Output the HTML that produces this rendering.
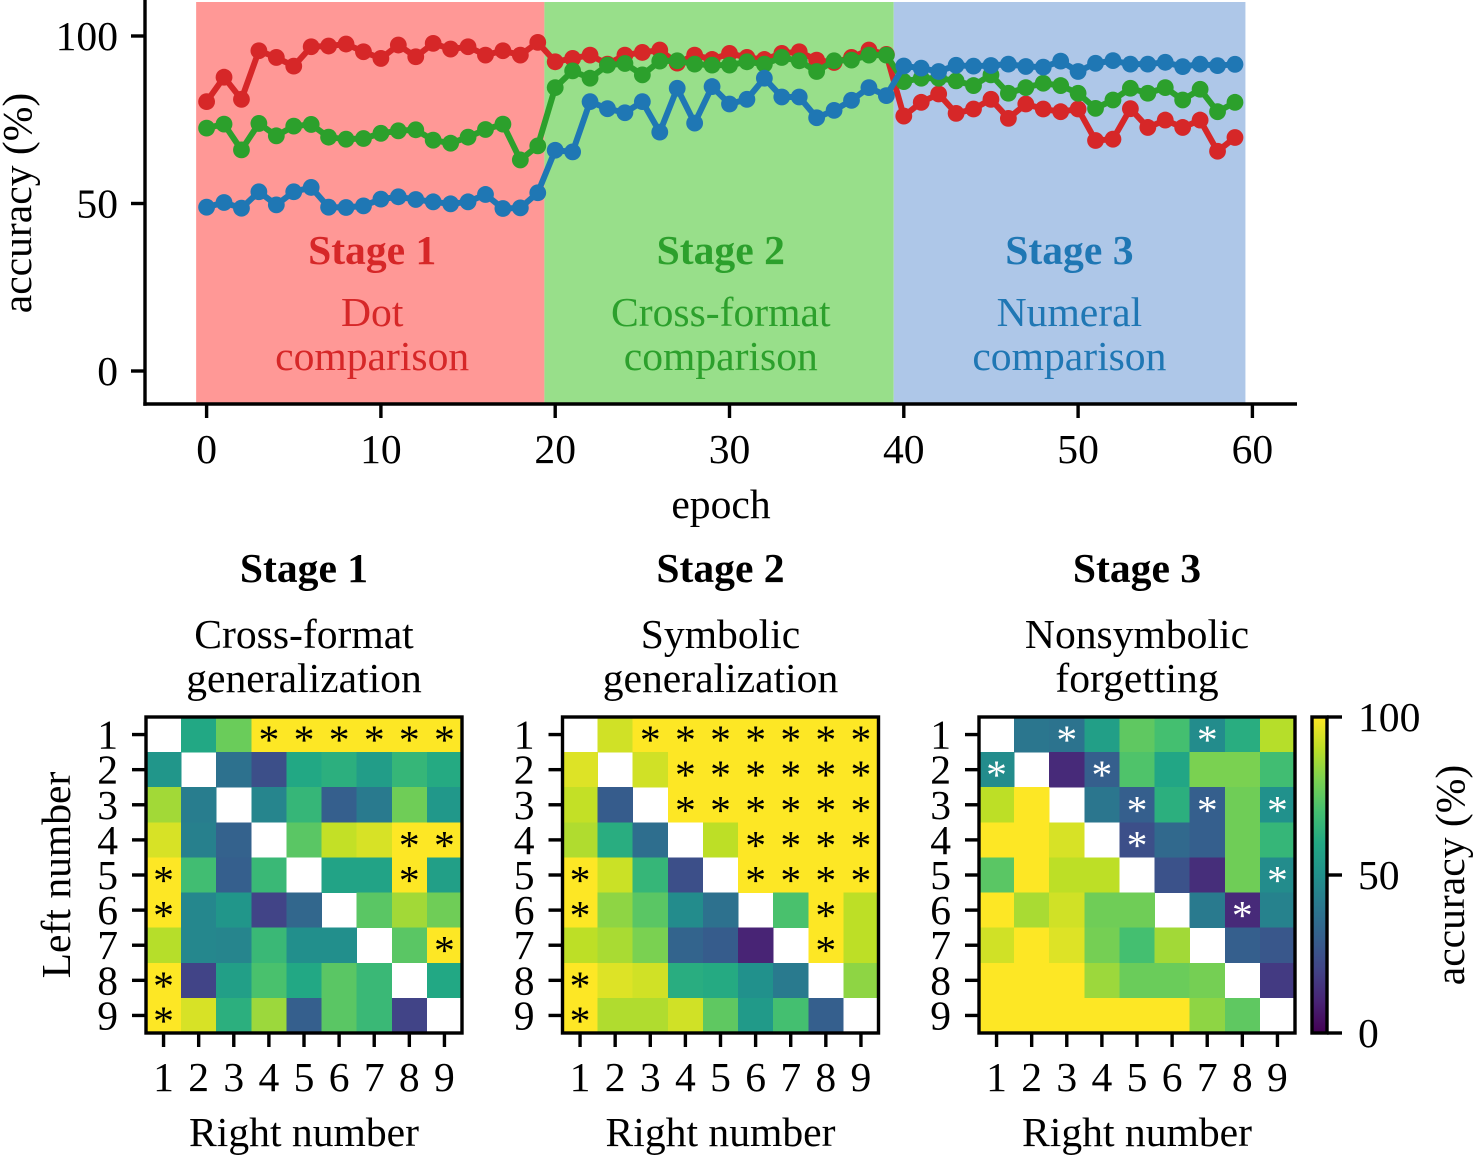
<!DOCTYPE html>
<html lang="en">
<head>
<meta charset="utf-8">
<title>Accuracy across stages</title>
<style>
html,body{margin:0;padding:0;background:#fff;}
svg{display:block;}
text{font-family:"Liberation Serif","Times New Roman",serif;font-size:41.6px;fill:#000;}
</style>
</head>
<body>
<svg id="fig" xmlns="http://www.w3.org/2000/svg" width="1473" height="1155" viewBox="0 0 1473 1155">
<defs><linearGradient id="cbar-grad" x1="0" y1="1" x2="0" y2="0"></linearGradient></defs>
</svg>
<script>
// ---- line chart data ----
const redAcc = [80.4,87.7,81.1,95.6,93.6,91,96.8,97,97.6,95.3,93.3,97.3,93.8,97.8,96.1,96.8,94.3,95.6,94.3,98.1,
  92.3,93.3,94.3,91.6,94.3,95.1,95.8,91.9,94.3,93,94.8,93.6,93,94.8,95.3,92.8,92.1,93.6,95.8,94.5,
  76.1,80.2,82.7,76.9,78.2,81.1,75.4,79.7,78.2,77.4,78.2,68.8,69.2,78.3,72.7,74.9,72.7,74.9,65.6,69.7];
const greenAcc = [72.5,73.7,66,73.9,70.2,73.1,73.6,69.8,69.2,69.4,70.95,71.7,72,68.9,68,69.8,72.1,73.7,63,67.2,
  84.6,89.6,87.4,91.3,91.8,88.4,92.5,92.6,91.6,91.3,91.3,92.3,91.6,93.6,92.6,89.4,92.6,92.8,94.3,94.3,
  86.4,87.4,87.4,86.6,85.2,88.4,82.9,84.6,85.9,85.2,82.9,78.4,80.9,84.4,82.9,84.6,80.9,84.1,77.4,80.2];
const blueAcc = [48.9,50.3,48.6,53.5,49.6,53.5,54.8,48.9,48.8,49.3,51.3,52,51.2,50.5,49.9,50.5,52.7,48.5,48.7,53.2,
  65.9,65.4,80.4,78.3,77.1,80.4,71.3,84.4,74,84.9,79.7,81.1,87.4,81.8,81.8,75.6,77.8,80.8,84.6,82.2,
  91.05,90.4,89.4,91.25,91,91.2,91.6,90.9,90.7,92.5,89.4,91.85,92.65,91.6,91.6,92.15,90.85,91.6,91.15,91.55];
const xTickValues = [0,10,20,30,40,50,60];
const yTickValues = [0,50,100];
const stageStart = [-0.6,19.38,39.42];
const stageEnd = [19.38,39.42,59.6];
const stageCenter = [9.5,29.5,49.5];
const stageNames = ['Stage 1','Stage 2','Stage 3'];
const stageLine1 = ['Dot','Cross-format','Numeral'];
const stageLine2 = ['comparison','comparison','comparison'];

// ---- heatmap data (rows: left number, cols: right number) ----
const numberLabels = [1,2,3,4,5,6,7,8,9];
const heat1 = [
 [null,60,77,100,100,100,100,100,100],
 [52,null,37,24,60,63,55,66,61],
 [86,42,null,45,66,30,41,78,53],
 [94,43,31,null,74,91,94,100,100],
 [100,69,30,67,null,58,58,100,56],
 [100,46,52,20,33,null,74,86,78],
 [89,46,45,67,49,49,null,74,100],
 [100,20,56,71,60,74,67,null,60],
 [100,94,63,85,30,74,67,20,null]];
const heat2 = [
 [null,93,100,100,100,100,100,100,100],
 [95,null,93,100,100,100,100,100,100],
 [91,29,null,100,100,100,100,100,100],
 [88,62,36,null,90,100,100,100,100],
 [100,92,66,24,null,100,100,100,100],
 [100,83,74,48,37,null,71,100,90],
 [90,87,80,32,29,10,null,100,90],
 [100,95,93,62,61,50,41,null,83],
 [100,88,88,93,75,54,70,30,null]];
const heat3 = [
 [null,39,38,56,75,70,48,62,89],
 [48,null,12,30,72,59,80,80,69],
 [90,100,null,39,30,63,30,78,50],
 [100,100,94,null,24,34,30,78,66],
 [74,100,90,90,null,25,13,78,48],
 [100,87,93,78,78,null,41,12,44],
 [93,100,95,79,70,86,null,30,27],
 [100,100,100,85,77,77,79,null,17],
 [100,100,100,100,100,100,83,75,null]];
const sig1 = [[1,4],[1,5],[1,6],[1,7],[1,8],[1,9],[4,8],[4,9],[5,1],[5,8],[6,1],[7,9],[8,1],[9,1]];
const sig2 = [[1,3],[1,4],[1,5],[1,6],[1,7],[1,8],[1,9],[2,4],[2,5],[2,6],[2,7],[2,8],[2,9],
 [3,4],[3,5],[3,6],[3,7],[3,8],[3,9],[4,6],[4,7],[4,8],[4,9],[5,1],[5,6],[5,7],[5,8],[5,9],
 [6,1],[6,8],[7,8],[8,1],[9,1]];
const sig3 = [[1,3],[1,7],[2,1],[2,4],[3,5],[3,7],[3,9],[4,5],[5,9],[6,8]];
const cbarTicks = [0,50,100];

// ---- viridis colormap ----
const viridis = ['#440154','#482475','#414487','#355f8d','#2a788e','#21918c','#22a884','#44bf70','#7ad151','#bddf26','#fde725'];
function hex2rgb(h){return [1,3,5].map(i=>parseInt(h.substr(i,2),16));}
function cmap(v){
  const t=Math.max(0,Math.min(100,v))/10, i=Math.min(9,Math.floor(t)), f=t-i;
  const a=hex2rgb(viridis[i]), b=hex2rgb(viridis[i+1]);
  return 'rgb('+a.map((c,k)=>Math.round(c+(b[k]-c)*f)).join(',')+')';
}

const NS='http://www.w3.org/2000/svg';
const fig=document.getElementById('fig');
function mk(tag,attrs,parent){
  const e=document.createElementNS(NS,tag);
  for(const k in attrs)e.setAttribute(k,attrs[k]);
  (parent||fig).appendChild(e);
  return e;
}
function txt(str,x,y,anchor,parent,extra){
  const e=mk('text',Object.assign({x:x,y:y,'text-anchor':anchor},extra||{}),parent);
  e.textContent=str;
  return e;
}

// ---- line chart axis functions ----
function xScale(e){return 206.6+e*17.43;}
function yScale(v){return 371-v*3.35;}
const AX_LEFT=145, AX_BOTTOM=404, AX_RIGHT=1297, AXW=3.4;

const lineChart=mk('g',{});



const spanFill=['#ff9896','#98df8a','#aec7e8'];
const stageColor=['#d62728','#2ca02c','#1f77b4'];
stageStart.forEach((s,i)=>{
  const r=mk('rect',{x:xScale(s),y:2,width:xScale(stageEnd[i])-xScale(s),height:AX_BOTTOM-2,fill:spanFill[i]},lineChart);
  
  
  const cx=xScale(stageCenter[i]);
  const t1=txt(stageNames[i],cx,264,'middle',lineChart,{'font-weight':'bold',style:'fill:'+stageColor[i]});
  
  
  const t2=txt(stageLine1[i],cx,326,'middle',lineChart,{style:'fill:'+stageColor[i]});
  
  
  const t3=txt(stageLine2[i],cx,370,'middle',lineChart,{style:'fill:'+stageColor[i]});
  
  
});

function drawSeries(values,color,name){
  const g=mk('g',{},lineChart);
  
  
  const pl=mk('polyline',{points:values.map((v,i)=>xScale(i)+','+yScale(v)).join(' '),fill:'none',stroke:color,'stroke-width':6,'stroke-linejoin':'round'},g);
  
  
  values.forEach((v,i)=>{
    const c=mk('circle',{cx:xScale(i),cy:yScale(v),r:8.4,fill:color},g);
    
    
  });
}
drawSeries(redAcc,'#d62728','stage-1-dot-accuracy');
drawSeries(greenAcc,'#2ca02c','stage-2-cross-format-accuracy');
drawSeries(blueAcc,'#1f77b4','stage-3-numeral-accuracy');

const ySpine=mk('line',{x1:AX_LEFT,y1:0,x2:AX_LEFT,y2:AX_BOTTOM+1.7,stroke:'#000','stroke-width':AXW},lineChart);


const xSpine=mk('line',{x1:AX_LEFT-1.7,y1:AX_BOTTOM,x2:AX_RIGHT,y2:AX_BOTTOM,stroke:'#000','stroke-width':AXW},lineChart);



xTickValues.forEach(v=>{
  const t=mk('line',{x1:xScale(v),y1:AX_BOTTOM,x2:xScale(v),y2:AX_BOTTOM+14,stroke:'#000','stroke-width':AXW},lineChart);
  
  
  const l=txt(String(v),xScale(v),463,'middle',lineChart);
  
  
});
yTickValues.forEach(v=>{
  const t=mk('line',{x1:AX_LEFT-14,y1:yScale(v),x2:AX_LEFT,y2:yScale(v),stroke:'#000','stroke-width':AXW},lineChart);
  
  
  const l=txt(String(v),118,yScale(v)+14,'end',lineChart);
  
  
});
const xTitle=txt('epoch',721,518,'middle',lineChart);


const yTitle=txt('accuracy (%)',0,0,'middle',lineChart,{transform:'translate(31,203) rotate(-90)'});



// ---- heatmaps ----
function drawHeatmap(opts){
  const g=mk('g',{});
  
  
  const x0=opts.x0, y0=717, size=316, n=opts.data.length, step=size/n;
  const col=c=>x0+c*step, row=r=>y0+r*step;
  opts.data.forEach((rowVals,r)=>{
    rowVals.forEach((v,c)=>{
      if(v===null)return;
      const cell=mk('rect',{x:col(c),y:row(r),width:step+0.3,height:step+0.3,fill:cmap(v),'shape-rendering':'crispEdges'},g);
      
      
    });
  });
  opts.sig.forEach(p=>{
    const s=txt('*',col(p[1]-1)+step/2,row(p[0]-1)+step/2+19,'middle',g,{style:'fill:'+opts.starColor});
    
    
  });
  const frame=mk('rect',{x:x0,y:y0,width:size,height:size,fill:'none',stroke:'#000','stroke-width':AXW},g);
  
  
  numberLabels.forEach((lab,i)=>{
    const tx=mk('line',{x1:col(i)+step/2,y1:y0+size,x2:col(i)+step/2,y2:y0+size+14,stroke:'#000','stroke-width':AXW},g);
    
    
    const lx=txt(String(lab),col(i)+step/2,1091,'middle',g);
    
    
    const ty=mk('line',{x1:x0-14,y1:row(i)+step/2,x2:x0,y2:row(i)+step/2,stroke:'#000','stroke-width':AXW},g);
    
    
    const ly=txt(String(lab),x0-28,row(i)+step/2+14,'end',g);
    
    
  });
  const cx=x0+size/2;
  const t0=txt(opts.title,cx,582,'middle',g,{'font-weight':'bold'});
  
  
  const t1=txt(opts.sub1,cx,648,'middle',g);
  
  
  const t2=txt(opts.sub2,cx,692,'middle',g);
  
  
  const xl=txt('Right number',cx,1146,'middle',g);
  
  
}
drawHeatmap({name:'stage-1-heatmap',data:heat1,sig:sig1,x0:146,starColor:'#000',title:'Stage 1',sub1:'Cross-format',sub2:'generalization'});
drawHeatmap({name:'stage-2-heatmap',data:heat2,sig:sig2,x0:562.5,starColor:'#000',title:'Stage 2',sub1:'Symbolic',sub2:'generalization'});
drawHeatmap({name:'stage-3-heatmap',data:heat3,sig:sig3,x0:979,starColor:'#fff',title:'Stage 3',sub1:'Nonsymbolic',sub2:'forgetting'});

const leftTitle=txt('Left number',0,0,'middle',fig,{transform:'translate(70,875) rotate(-90)'});



// ---- colorbar ----
const grad=document.getElementById('cbar-grad');
viridis.forEach((c,i)=>{
  const st=mk('stop',{offset:(i*10)+'%','stop-color':c},grad);
  
  
});
function cbarY(v){return 1033-v*3.16;}
const cbarGroup=mk('g',{});


const cbarRect=mk('rect',{x:1312,y:cbarY(100),width:15,height:cbarY(0)-cbarY(100),fill:'url(#cbar-grad)',stroke:'#000','stroke-width':AXW},cbarGroup);


cbarTicks.forEach(v=>{
  const t=mk('line',{x1:1327,y1:cbarY(v),x2:1342,y2:cbarY(v),stroke:'#000','stroke-width':AXW},cbarGroup);
  
  
  const l=txt(String(v),1358,cbarY(v)+14,'start',cbarGroup);
  
  
});
const cbarTitle=txt('accuracy (%)',0,0,'middle',cbarGroup,{transform:'translate(1464,875) rotate(-90)'});


</script>
</body>
</html>
